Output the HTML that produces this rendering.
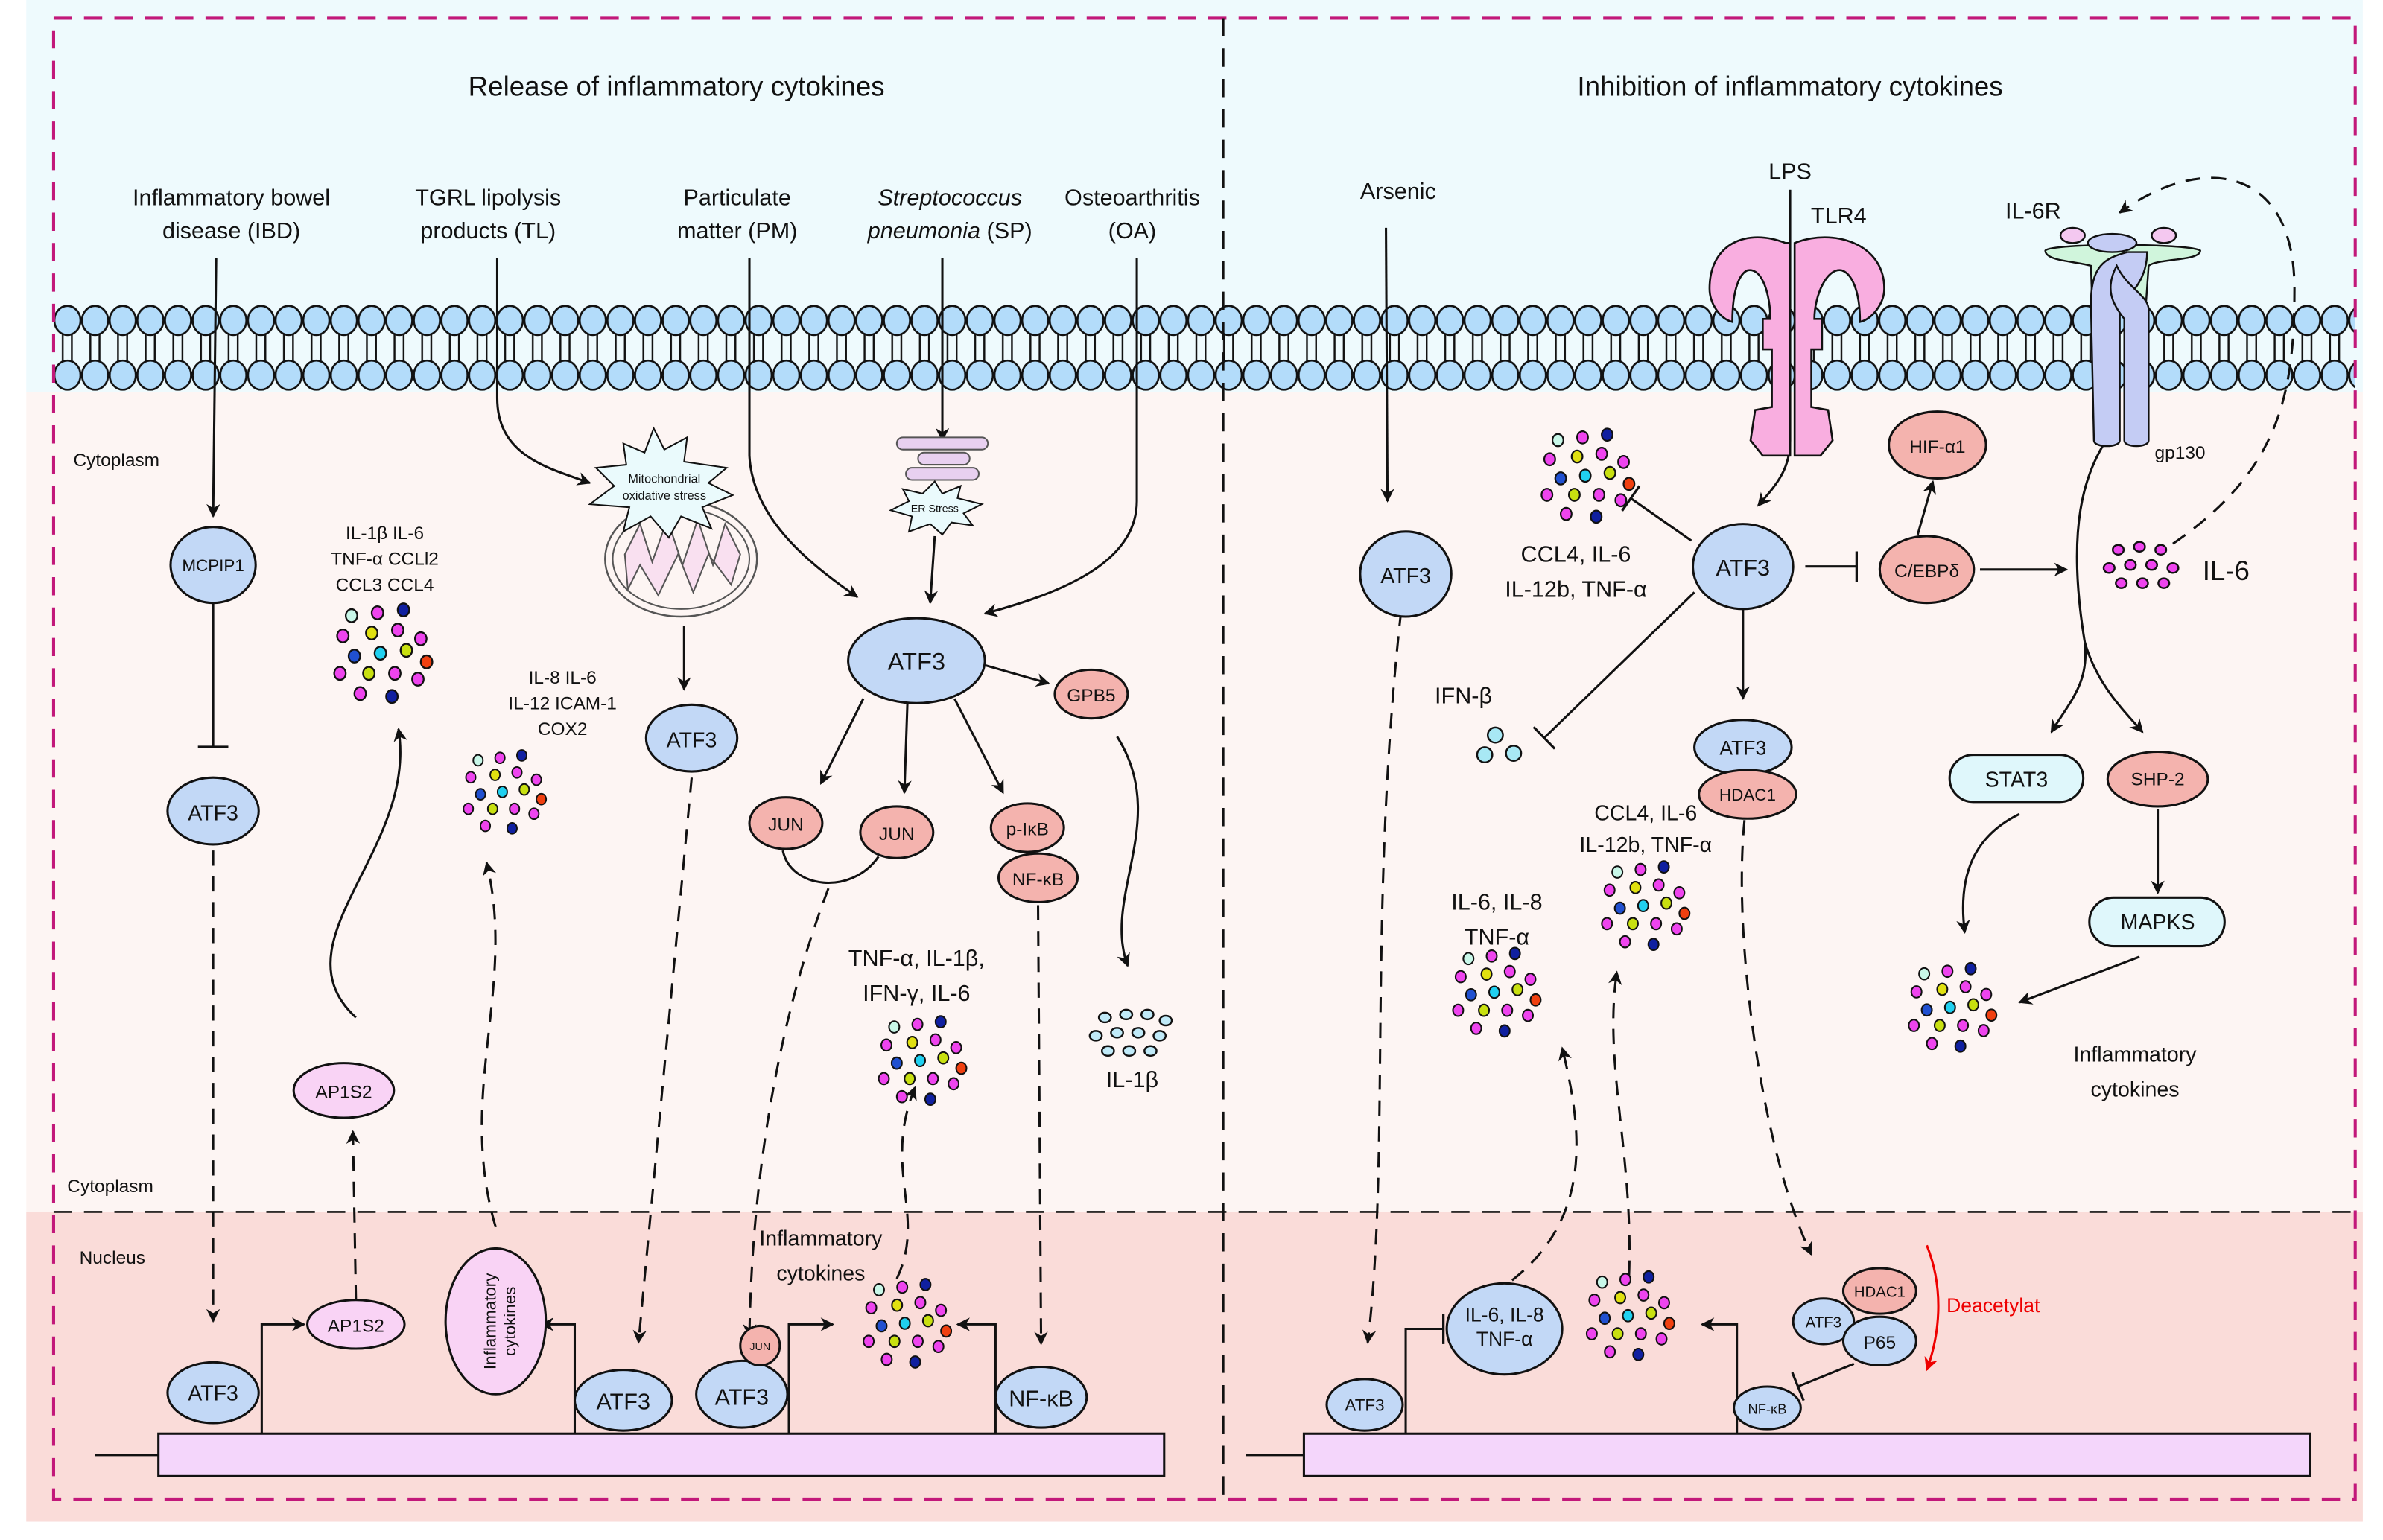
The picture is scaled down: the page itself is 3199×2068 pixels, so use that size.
<!DOCTYPE html>
<html><head><meta charset="utf-8"><style>
html,body{margin:0;padding:0;background:#fff}
svg{display:block}
text{font-family:"Liberation Sans",Arial,sans-serif;fill:#111}
</style></head><body>
<svg width="3199" height="2068" viewBox="0 0 1568 1014" xmlns="http://www.w3.org/2000/svg">
<defs>
<marker id="ar" viewBox="0 0 10 10" refX="9" refY="5" markerWidth="9" markerHeight="9" markerUnits="userSpaceOnUse" orient="auto"><path d="M0,0 L10,5 L0,10 L3,5 z" fill="#111"/></marker>
<marker id="arr" viewBox="0 0 10 10" refX="9" refY="5" markerWidth="9" markerHeight="9" markerUnits="userSpaceOnUse" orient="auto"><path d="M0,0 L10,5 L0,10 L3,5 z" fill="#e00"/></marker>
<marker id="bar" viewBox="0 0 4 20" refX="2" refY="10" markerWidth="4" markerHeight="20" markerUnits="userSpaceOnUse" orient="auto"><rect x="1" y="0" width="1.6" height="20" fill="#111"/></marker>
<g id="cl" stroke="#111" stroke-width="1.2">
<ellipse cx="-22" cy="-28" rx="4" ry="4.5" fill="#c8f7e8"/><ellipse cx="-4" cy="-30" rx="4" ry="4.5" fill="#ee44ee"/><ellipse cx="14" cy="-32" rx="4" ry="4.5" fill="#1020a0"/>
<ellipse cx="-28" cy="-14" rx="4" ry="4.5" fill="#ee44ee"/><ellipse cx="-8" cy="-16" rx="4" ry="4.5" fill="#e0e010"/><ellipse cx="10" cy="-18" rx="4" ry="4.5" fill="#ee44ee"/><ellipse cx="26" cy="-12" rx="4" ry="4.5" fill="#ee44ee"/>
<ellipse cx="-20" cy="0" rx="4" ry="4.5" fill="#2050d0"/><ellipse cx="-2" cy="-2" rx="4" ry="4.5" fill="#20d0f0"/><ellipse cx="16" cy="-4" rx="4" ry="4.5" fill="#c8e010"/><ellipse cx="30" cy="4" rx="4" ry="4.5" fill="#f04010"/>
<ellipse cx="-30" cy="12" rx="4" ry="4.5" fill="#ee44ee"/><ellipse cx="-10" cy="12" rx="4" ry="4.5" fill="#c8e010"/><ellipse cx="8" cy="12" rx="4" ry="4.5" fill="#ee44ee"/><ellipse cx="24" cy="16" rx="4" ry="4.5" fill="#ee44ee"/>
<ellipse cx="-16" cy="26" rx="4" ry="4.5" fill="#ee44ee"/><ellipse cx="6" cy="28" rx="4" ry="4.5" fill="#1020a0"/>
</g>
<g id="cl2" stroke="#111" stroke-width="1.2" fill="#c0eaf8">
<ellipse cx="-18" cy="-10" rx="4" ry="3.2"/><ellipse cx="-4" cy="-12" rx="4" ry="3.2"/><ellipse cx="10" cy="-12" rx="4" ry="3.2"/><ellipse cx="22" cy="-8" rx="4" ry="3.2"/>
<ellipse cx="-24" cy="2" rx="4" ry="3.2"/><ellipse cx="-10" cy="0" rx="4" ry="3.2"/><ellipse cx="4" cy="0" rx="4" ry="3.2"/><ellipse cx="18" cy="2" rx="4" ry="3.2"/>
<ellipse cx="-16" cy="12" rx="4" ry="3.2"/><ellipse cx="-2" cy="12" rx="4" ry="3.2"/><ellipse cx="12" cy="12" rx="4" ry="3.2"/>
</g>
<g id="cl3" stroke="#111" stroke-width="1.2" fill="#ee44ee">
<ellipse cx="-14" cy="-10" rx="3.6" ry="3.2"/><ellipse cx="0" cy="-12" rx="3.6" ry="3.2"/><ellipse cx="14" cy="-10" rx="3.6" ry="3.2"/>
<ellipse cx="-20" cy="2" rx="3.6" ry="3.2"/><ellipse cx="-6" cy="0" rx="3.6" ry="3.2"/><ellipse cx="8" cy="0" rx="3.6" ry="3.2"/><ellipse cx="22" cy="2" rx="3.6" ry="3.2"/>
<ellipse cx="-12" cy="12" rx="3.6" ry="3.2"/><ellipse cx="2" cy="12" rx="3.6" ry="3.2"/><ellipse cx="16" cy="12" rx="3.6" ry="3.2"/>
</g>
<pattern id="mem" x="35" y="0" width="18.2" height="1014" patternUnits="userSpaceOnUse">
<line x1="6" y1="215" x2="6" y2="242" stroke="#111" stroke-width="1.2"/><line x1="12" y1="215" x2="12" y2="242" stroke="#111" stroke-width="1.2"/>
<ellipse cx="9.1" cy="211" rx="8.6" ry="9.6" fill="#b3dcfa" stroke="#111" stroke-width="1.3"/>
<ellipse cx="9.1" cy="247" rx="8.6" ry="9.6" fill="#b3dcfa" stroke="#111" stroke-width="1.3"/>
</pattern>
</defs>

<rect x="17" y="0" width="1538" height="258" fill="#eefafd"/>
<rect x="17" y="258" width="1538" height="540" fill="#fdf5f3"/>
<rect x="17" y="798" width="1538" height="204" fill="#fadcd9"/>
<rect x="35" y="195" width="1515" height="66" fill="url(#mem)"/>

<rect x="35" y="12" width="1515" height="975" fill="none" stroke="#c2187a" stroke-width="2" stroke-dasharray="12,8"/>
<line x1="805" y1="12" x2="805" y2="987" stroke="#111" stroke-width="1.3" stroke-dasharray="12,8"/>
<line x1="35" y1="798" x2="1550" y2="798" stroke="#111" stroke-width="1.3" stroke-dasharray="12,8"/>

<text x="445" y="63" font-size="18" text-anchor="middle">Release of inflammatory cytokines</text>
<text x="1178" y="63" font-size="18" text-anchor="middle">Inhibition of inflammatory cytokines</text>

<g font-size="15" text-anchor="middle">
<text x="152" y="135">Inflammatory bowel</text><text x="152" y="157">disease (IBD)</text>
<text x="321" y="135">TGRL lipolysis</text><text x="321" y="157">products (TL)</text>
<text x="485" y="135">Particulate</text><text x="485" y="157">matter (PM)</text>
<text x="625" y="135" font-style="italic">Streptococcus</text><text x="625" y="157"><tspan font-style="italic">pneumonia</tspan> (SP)</text>
<text x="745" y="135">Osteoarthritis</text><text x="745" y="157">(OA)</text>
<text x="920" y="131">Arsenic</text>
<text x="1178" y="118">LPS</text>
<text x="1210" y="147">TLR4</text>
<text x="1338" y="144">IL-6R</text>
</g>
<g font-size="12">
<text x="48" y="307">Cytoplasm</text><text x="44" y="785">Cytoplasm</text><text x="52" y="832">Nucleus</text>
<text x="1418" y="302">gp130</text>
</g>

<line x1="62" y1="958" x2="104" y2="958" stroke="#111" stroke-width="1.5"/>
<rect x="104" y="944" width="662" height="28" fill="#f4d6fb" stroke="#111" stroke-width="1.5"/>
<line x1="820" y1="958" x2="858" y2="958" stroke="#111" stroke-width="1.5"/>
<rect x="858" y="944" width="662" height="28" fill="#f4d6fb" stroke="#111" stroke-width="1.5"/>

<g fill="none" stroke="#111" stroke-width="1.5">
<path d="M142 170 L140 340" marker-end="url(#ar)"/>
<path d="M140 392 L140 492" marker-end="url(#bar)"/>
<path d="M140 560 L140 870" stroke-dasharray="10,7" marker-end="url(#ar)"/>
<path d="M172 944 L172 872 L200 872" marker-end="url(#ar)"/>
<path d="M234 856 L232 745" stroke-dasharray="10,7" marker-end="url(#ar)"/>
<path d="M234 670 C180 620 275 560 262 480" marker-end="url(#ar)"/>
<path d="M378 944 L378 872 L356 872" marker-end="url(#ar)"/>
<path d="M326 808 C300 720 340 650 320 568" stroke-dasharray="10,7" marker-end="url(#ar)"/>
<path d="M327 170 L327 262 C327 300 360 308 388 318" marker-end="url(#ar)"/>
<path d="M450 412 L450 454" marker-end="url(#ar)"/>
<path d="M455 512 L420 884" stroke-dasharray="10,7" marker-end="url(#ar)"/>
<path d="M493 170 L493 300 C495 340 530 370 564 393" marker-end="url(#ar)"/>
<path d="M620 170 L620 290" marker-end="url(#ar)"/>
<path d="M615 353 L612 397" marker-end="url(#ar)"/>
<path d="M748 170 L748 330 C748 370 700 390 648 404" marker-end="url(#ar)"/>
<path d="M568 460 L540 516" marker-end="url(#ar)"/>
<path d="M597 463 L595 522" marker-end="url(#ar)"/>
<path d="M628 460 L660 522" marker-end="url(#ar)"/>
<path d="M641 436 L690 450" marker-end="url(#ar)"/>
<path d="M515 560 C520 585 560 590 578 564"/>
<path d="M545 585 C520 650 495 750 493 880" stroke-dasharray="10,7" marker-end="url(#ar)"/>
<path d="M519 944 L519 872 L548 872" marker-end="url(#ar)"/>
<path d="M590 842 C610 800 580 770 602 716" stroke-dasharray="10,7" marker-end="url(#ar)"/>
<path d="M683 596 L685 885" stroke-dasharray="10,7" marker-end="url(#ar)"/>
<path d="M655 944 L655 872 L630 872" marker-end="url(#ar)"/>
<path d="M735 485 C770 540 725 590 742 636" marker-end="url(#ar)"/>
<path d="M912 150 L913 330" marker-end="url(#ar)"/>
<path d="M922 402 C900 600 915 760 900 884" stroke-dasharray="10,7" marker-end="url(#ar)"/>
<path d="M925 944 L925 875 L950 875" marker-end="url(#bar)"/>
<path d="M995 843 C1050 800 1040 740 1028 690" stroke-dasharray="10,7" marker-end="url(#ar)"/>
<path d="M1178 125 L1178 290 C1178 310 1168 320 1157 333" marker-end="url(#ar)"/>
<path d="M1113 356 L1073 328" marker-end="url(#bar)"/>
<path d="M1188 373 L1222 373" marker-end="url(#bar)"/>
<path d="M1262 352 L1272 317" marker-end="url(#ar)"/>
<path d="M1303 375 L1360 375" marker-end="url(#ar)"/>
<path d="M1430 358 C1500 310 1510 260 1510 190 C1510 110 1450 100 1395 140" stroke-dasharray="10,7" marker-end="url(#ar)"/>
<path d="M1115 390 L1016 486" marker-end="url(#bar)"/>
<path d="M1147 401 L1147 460" marker-end="url(#ar)"/>
<path d="M1072 840 C1075 760 1055 700 1064 640" stroke-dasharray="10,7" marker-end="url(#ar)"/>
<path d="M1148 540 C1140 620 1160 760 1192 826" stroke-dasharray="10,7" marker-end="url(#ar)"/>
<path d="M1143 944 L1143 872 L1120 872" marker-end="url(#ar)"/>
<path d="M1220 898 L1183 913" marker-end="url(#bar)"/>
<path d="M1391 283 C1370 310 1360 350 1372 423"/>
<path d="M1372 423 C1375 450 1362 462 1350 482" marker-end="url(#ar)"/>
<path d="M1372 423 C1380 450 1395 465 1410 482" marker-end="url(#ar)"/>
<path d="M1420 533 L1420 588" marker-end="url(#ar)"/>
<path d="M1408 630 L1329 660" marker-end="url(#ar)"/>
<path d="M1329 536 C1300 550 1288 575 1293 614" marker-end="url(#ar)"/>
</g>
<path d="M1268 820 C1280 850 1276 880 1268 902" fill="none" stroke="#e00" stroke-width="1.5" marker-end="url(#arr)"/>
<text x="1281" y="864" font-size="13" style="fill:#e00">Deacetylat</text>

<ellipse cx="448" cy="368" rx="50" ry="38" fill="#fdf5f3" stroke="#555" stroke-width="1.2"/>
<ellipse cx="448" cy="368" rx="45" ry="33" fill="none" stroke="#555" stroke-width="1"/>
<path d="M411 365 L421 345 L429 370 L439 342 L449 372 L459 342 L469 372 L477 345 L487 365 L481 385 L466 365 L456 390 L446 365 L433 392 L421 372 L413 388 Z" fill="#f9e0f0" stroke="#555" stroke-width="1"/>
<path d="M430 282 L437 296 L452 288 L450 304 L478 308 L466 318 L482 326 L462 334 L468 348 L448 340 L440 354 L428 340 L410 350 L414 334 L388 332 L404 320 L392 308 L412 306 L410 292 L424 298 Z" fill="#eafafc" stroke="#111" stroke-width="1"/>
<text x="437" y="318" font-size="8" text-anchor="middle">Mitochondrial</text>
<text x="437" y="329" font-size="8" text-anchor="middle">oxidative stress</text>
<g fill="#e8d0f0" stroke="#555" stroke-width="1">
<rect x="590" y="288" width="60" height="8" rx="4"/><rect x="604" y="298" width="34" height="8" rx="4"/><rect x="596" y="308" width="48" height="8" rx="4"/>
</g>
<path d="M615 317 L620 325 L632 320 L630 328 L646 332 L634 338 L640 346 L626 344 L620 352 L612 345 L598 350 L600 340 L586 336 L598 330 L594 322 L607 325 Z" fill="#eafafc" stroke="#111" stroke-width="1"/>
<text x="615" y="337" font-size="7" text-anchor="middle">ER Stress</text>

<g fill="#f9aee0" stroke="#111" stroke-width="1.3">
<path d="M1175 160 C1150 150 1125 160 1125 190 C1125 200 1132 210 1140 212 C1140 190 1145 180 1150 178 C1160 176 1165 195 1165 210 L1160 210 L1160 230 L1166 230 L1166 268 L1155 270 L1152 290 L1160 300 L1178 300 L1178 160 Z"/>
<path d="M1181 160 C1206 150 1240 160 1240 190 C1240 200 1232 210 1224 212 C1224 190 1218 180 1212 178 C1202 176 1194 195 1194 210 L1199 210 L1199 230 L1192 230 L1192 268 L1203 270 L1206 290 L1198 300 L1181 300 L1181 160 Z"/>
</g>
<line x1="1178" y1="125" x2="1178" y2="300" stroke="#111" stroke-width="1.3"/>

<g stroke="#111" stroke-width="1.2">
<ellipse cx="1364" cy="155" rx="8" ry="5" fill="#f4c8f0"/><ellipse cx="1424" cy="155" rx="8" ry="5" fill="#f4c8f0"/>
<path d="M1346 165 C1350 160 1440 160 1448 165 C1448 172 1420 170 1414 175 L1410 232 L1404 232 L1404 175 L1384 175 L1384 232 L1378 232 L1376 175 C1366 172 1346 172 1346 165 Z" fill="#d0f5dc"/>
<ellipse cx="1390" cy="160" rx="16" ry="6" fill="#c4ccf4"/>
<path d="M1376 200 C1376 175 1385 170 1400 166 L1413 166 C1413 178 1408 190 1395 200 L1395 290 C1395 295 1378 295 1378 290 Z" fill="#c4ccf4"/>
<path d="M1393 175 C1400 190 1415 195 1414 205 L1414 290 C1414 295 1398 295 1398 290 L1398 210 C1390 200 1385 190 1393 175 Z" fill="#c4ccf4"/>
</g>

<g stroke="#111" stroke-width="1.5">
<ellipse cx="140" cy="372" rx="28" ry="25" fill="#c2d8f6"/>
<ellipse cx="140" cy="534" rx="30" ry="22" fill="#c2d8f6"/>
<ellipse cx="140" cy="917" rx="30" ry="20" fill="#c2d8f6"/>
<ellipse cx="234" cy="872" rx="32" ry="16" fill="#f9d3f5"/>
<ellipse cx="226" cy="718" rx="33" ry="18" fill="#f9d3f5"/>
<ellipse cx="326" cy="870" rx="33" ry="48" fill="#f9d3f5"/>
<ellipse cx="455" cy="486" rx="30" ry="22" fill="#c2d8f6"/>
<ellipse cx="410" cy="922" rx="32" ry="20" fill="#c2d8f6"/>
<ellipse cx="603" cy="435" rx="45" ry="28" fill="#c2d8f6"/>
<ellipse cx="517" cy="542" rx="24" ry="17" fill="#f4b3ae"/>
<ellipse cx="590" cy="548" rx="24" ry="17" fill="#f4b3ae"/>
<ellipse cx="676" cy="545" rx="24" ry="16" fill="#f4b3ae"/>
<ellipse cx="683" cy="578" rx="26" ry="16" fill="#f4b3ae"/>
<ellipse cx="718" cy="457" rx="24" ry="16" fill="#f4b3ae"/>
<ellipse cx="488" cy="918" rx="30" ry="22" fill="#c2d8f6"/>
<circle cx="500" cy="886" r="13" fill="#f4b3ae"/>
<ellipse cx="685" cy="920" rx="30" ry="20" fill="#c2d8f6"/>
<ellipse cx="925" cy="378" rx="30" ry="28" fill="#c2d8f6"/>
<ellipse cx="898" cy="925" rx="25" ry="17" fill="#c2d8f6"/>
<ellipse cx="990" cy="875" rx="38" ry="30" fill="#c2d8f6"/>
<ellipse cx="1147" cy="373" rx="33" ry="28" fill="#c2d8f6"/>
<ellipse cx="1268" cy="375" rx="31" ry="22" fill="#f4b3ae"/>
<ellipse cx="1275" cy="293" rx="32" ry="22" fill="#f4b3ae"/>
<ellipse cx="1147" cy="492" rx="32" ry="18" fill="#c2d8f6"/>
<ellipse cx="1150" cy="523" rx="32" ry="16" fill="#f4b3ae"/>
<ellipse cx="1200" cy="870" rx="20" ry="15" fill="#c2d8f6"/>
<ellipse cx="1237" cy="850" rx="24" ry="15" fill="#f4b3ae"/>
<ellipse cx="1237" cy="883" rx="24" ry="16" fill="#c2d8f6"/>
<ellipse cx="1163" cy="927" rx="22" ry="14" fill="#c2d8f6"/>
<rect x="1283" y="497" width="88" height="31" rx="15.5" fill="#dff7fb"/>
<ellipse cx="1420" cy="513" rx="33" ry="18" fill="#f4b3ae"/>
<rect x="1375" y="591" width="89" height="32" rx="16" fill="#dff7fb"/>
</g>
<g stroke="#111" stroke-width="1.2" fill="#a8e8f4">
<circle cx="984" cy="484" r="5"/><circle cx="977" cy="497" r="5"/><circle cx="996" cy="496" r="5"/>
</g>

<g text-anchor="middle">
<text x="140" y="376" font-size="11">MCPIP1</text>
<text x="140" y="540" font-size="14">ATF3</text>
<text x="140" y="922" font-size="14">ATF3</text>
<text x="234" y="877" font-size="12">AP1S2</text>
<text x="226" y="723" font-size="12">AP1S2</text>
<text transform="translate(330,870) rotate(-90)" font-size="11" x="0" y="-4">Inflammatory</text>
<text transform="translate(330,870) rotate(-90)" font-size="11" x="0" y="9">cytokines</text>
<text x="455" y="492" font-size="14">ATF3</text>
<text x="410" y="928" font-size="15">ATF3</text>
<text x="603" y="441" font-size="16">ATF3</text>
<text x="517" y="547" font-size="12">JUN</text>
<text x="590" y="553" font-size="12">JUN</text>
<text x="676" y="550" font-size="12">p-IκB</text>
<text x="683" y="583" font-size="12">NF-κB</text>
<text x="718" y="462" font-size="12">GPB5</text>
<text x="488" y="925" font-size="15">ATF3</text>
<text x="500" y="889" font-size="7">JUN</text>
<text x="685" y="926" font-size="15">NF-κB</text>
<text x="925" y="384" font-size="14">ATF3</text>
<text x="898" y="929" font-size="11">ATF3</text>
<text x="990" y="870" font-size="13">IL-6, IL-8</text>
<text x="990" y="886" font-size="13">TNF-α</text>
<text x="1147" y="379" font-size="15">ATF3</text>
<text x="1268" y="380" font-size="12">C/EBPδ</text>
<text x="1275" y="298" font-size="12">HIF-α1</text>
<text x="1147" y="497" font-size="13">ATF3</text>
<text x="1150" y="527" font-size="11">HDAC1</text>
<text x="1200" y="874" font-size="10">ATF3</text>
<text x="1237" y="854" font-size="10">HDAC1</text>
<text x="1237" y="888" font-size="12">P65</text>
<text x="1163" y="931" font-size="9">NF-κB</text>
<text x="1327" y="518" font-size="14">STAT3</text>
<text x="1420" y="517" font-size="12">SHP-2</text>
<text x="1420" y="612" font-size="14">MAPKS</text>
</g>

<g text-anchor="middle">
<g font-size="12"><text x="253" y="355">IL-1β IL-6</text><text x="253" y="372">TNF-α CCLl2</text><text x="253" y="389">CCL3 CCL4</text>
<text x="370" y="450">IL-8 IL-6</text><text x="370" y="467">IL-12 ICAM-1</text><text x="370" y="484">COX2</text></g>
<g font-size="14"><text x="540" y="820">Inflammatory</text><text x="540" y="843">cytokines</text>
<text x="1405" y="699">Inflammatory</text><text x="1405" y="722">cytokines</text></g>
<g font-size="15"><text x="603" y="636">TNF-α, IL-1β,</text><text x="603" y="659">IFN-γ, IL-6</text>
<text x="745" y="716">IL-1β</text>
<text x="985" y="599">IL-6, IL-8</text><text x="985" y="622">TNF-α</text>
<text x="1037" y="370">CCL4, IL-6</text><text x="1037" y="393">IL-12b, TNF-α</text>
<text x="963" y="463">IFN-β</text></g>
<g font-size="14"><text x="1083" y="540">CCL4, IL-6</text><text x="1083" y="561">IL-12b, TNF-α</text></g>
<text x="1465" y="382" font-size="18">IL-6</text>
</g>

<use href="#cl" transform="translate(252,432) scale(0.95)"/>
<use href="#cl" transform="translate(332,523) scale(0.8)"/>
<use href="#cl" transform="translate(607,700) scale(0.85)"/>
<use href="#cl" transform="translate(597,873) scale(0.85)"/>
<use href="#cl" transform="translate(1045,315) scale(0.9)"/>
<use href="#cl" transform="translate(985,655) scale(0.85)"/>
<use href="#cl" transform="translate(1083,598) scale(0.85)"/>
<use href="#cl" transform="translate(1073,868) scale(0.85)"/>
<use href="#cl" transform="translate(1285,665) scale(0.85)"/>
<use href="#cl2" transform="translate(745,680)"/>
<use href="#cl3" transform="translate(1408,372)"/>
</svg>
</body></html>
